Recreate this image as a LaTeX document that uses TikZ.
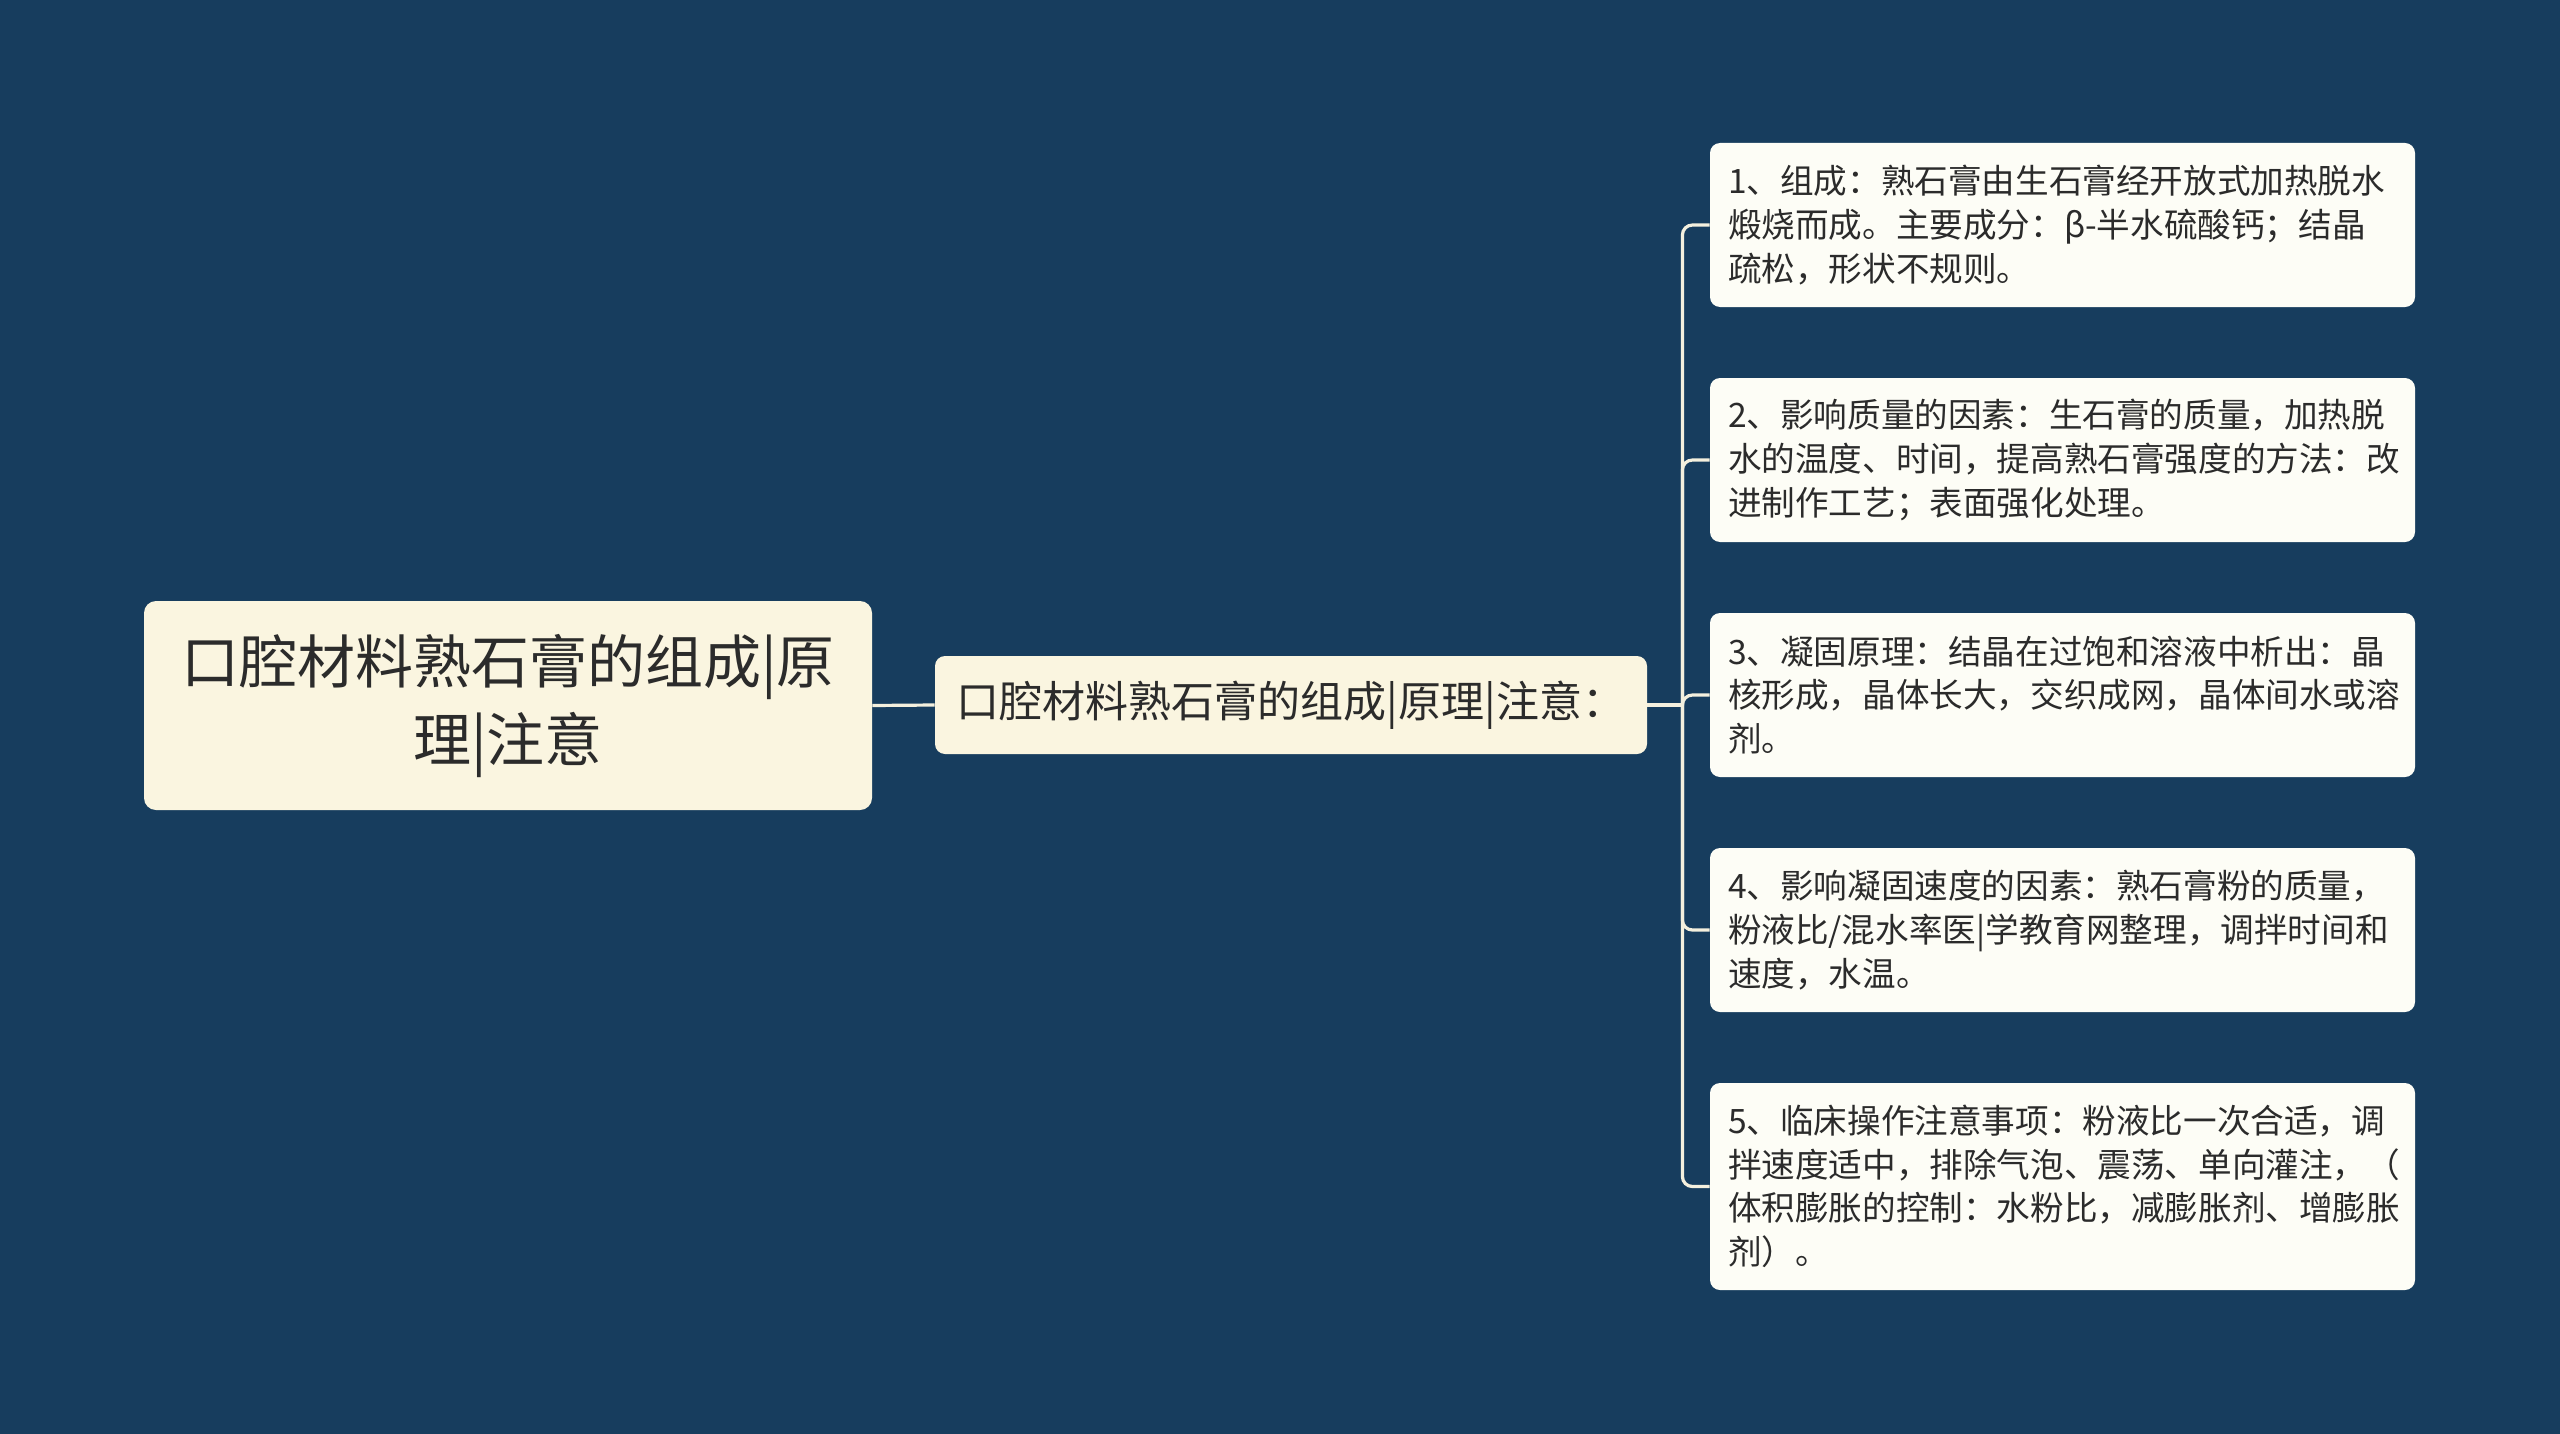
\documentclass[tikz,border=0pt]{standalone}
\usepackage{fontspec}
\setmainfont{Noto Sans CJK SC}
\usepackage{tikz}
\usepackage{xcolor}

\definecolor{bgblue}{RGB}{23,61,94}
\definecolor{rootfill}{RGB}{250,245,224}
\definecolor{leaffill}{RGB}{253,253,246}
\definecolor{linkcol}{RGB}{244,240,222}
\definecolor{inkcol}{RGB}{43,43,43}

\tikzset{
  rootbox/.style={draw=none, fill=rootfill, rounded corners=6pt, text=inkcol, align=center,
    minimum width=364pt, minimum height=104.5pt, inner sep=0pt,
    font=\fontsize{29}{39}\selectfont},
  mainbox/.style={draw=none, fill=rootfill, rounded corners=5pt, text=inkcol, align=center,
    minimum width=356pt, minimum height=49pt, inner sep=0pt,
    font=\fontsize{21.5}{26}\selectfont},
  leafbox/.style={draw=none, fill=leaffill, rounded corners=5pt, text=inkcol, align=left,
    text width=334.5pt, inner xsep=9pt, inner ysep=0pt, minimum height=82pt,
    font=\fontsize{16.8}{21.8}\selectfont},
  link/.style={draw=linkcol, line width=1.6pt},
}

\begin{document}
\begin{tikzpicture}[x=0.5pt,y=0.5pt,yscale=-1,xscale=1]
%set diagram: 2560 x 1434
\fill[bgblue] (0,0) rectangle (2560,1434);
\useasboundingbox (0,0) rectangle (2560,1434);

% Root Node
\node [rootbox] (root) at (508,705.5) {口腔材料熟石膏的组成|原\\理|注意};
% Main Node
\node [mainbox] (main) at (1291,705) {口腔材料熟石膏的组成|原理|注意：};

% Leaf Nodes
\node [leafbox] (leaf1) at (2062.5,225) {1、组成：熟石膏由生石膏经开放式加热脱水\\煅烧而成。主要成分：β-半水硫酸钙；结晶\\疏松，形状不规则。};
\node [leafbox] (leaf2) at (2062.5,460) {2、影响质量的因素：生石膏的质量，加热脱\\水的温度、时间，提高熟石膏强度的方法：改\\进制作工艺；表面强化处理。};
\node [leafbox] (leaf3) at (2062.5,695) {3、凝固原理：结晶在过饱和溶液中析出：晶\\核形成，晶体长大，交织成网，晶体间水或溶\\剂。};
\node [leafbox] (leaf4) at (2062.5,930) {4、影响凝固速度的因素：熟石膏粉的质量，\\粉液比/混水率医|学教育网整理，调拌时间和\\速度，水温。};
\node [leafbox, minimum height=103.5pt] (leaf5) at (2062.5,1186.5) {5、临床操作注意事项：粉液比一次合适，调\\拌速度适中，排除气泡、震荡、单向灌注，（\\体积膨胀的控制：水粉比，减膨胀剂、增膨胀\\剂）。};

%Straight Lines
\draw [link] (root.east) -- (main.west);
\coordinate (fork) at ([xshift=17.5pt]main.east);
\draw [link] (main.east) -- (fork);
%Branch Lines
\foreach \leaf in {leaf1,leaf2,leaf3,leaf4,leaf5}
  \draw [link, rounded corners=5pt] (fork) |- (\leaf.west);

\end{tikzpicture}
\end{document}
